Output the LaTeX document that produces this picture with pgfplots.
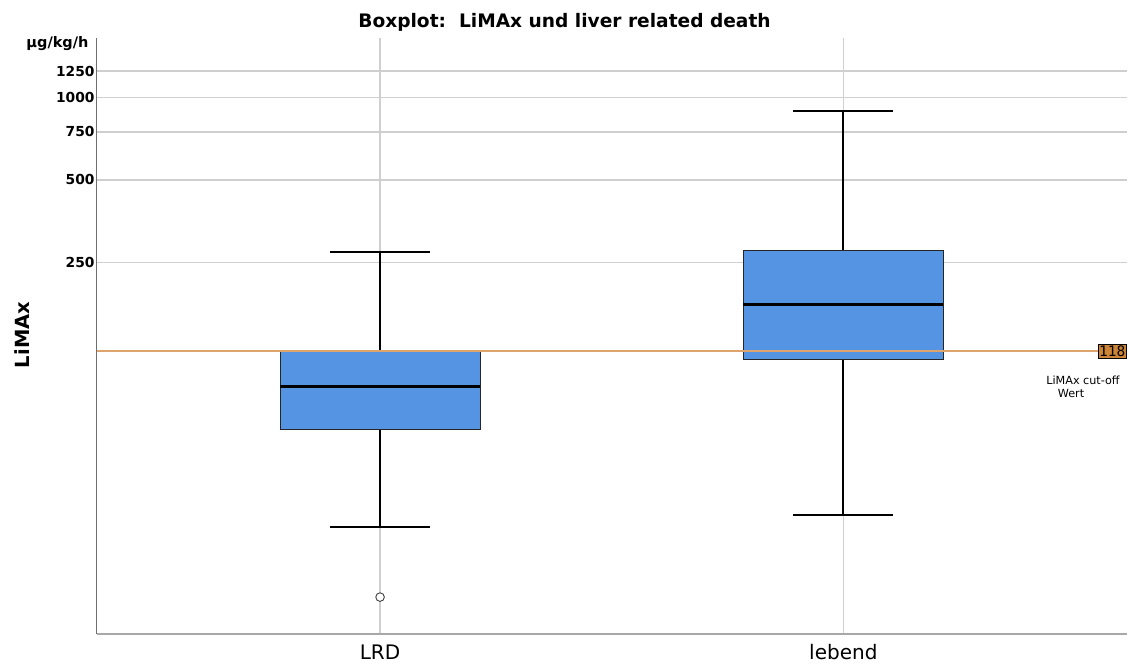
\documentclass[border=0pt]{standalone}
\usepackage{pgfplots}
\pgfplotsset{compat=1.18}
\usepackage{fontspec}
\setmainfont{DejaVu Sans}
\newfontfamily\monofont{DejaVu Sans Mono}
\definecolor{boxblue}{HTML}{5494E2}
\definecolor{cutline}{HTML}{DDA46E}
\definecolor{cutfill}{HTML}{CC8436}
\definecolor{gridgray}{HTML}{CFCFCF}
\definecolor{axisdark}{HTML}{6E6E6E}
\definecolor{axislight}{HTML}{A8A8A8}
\begin{document}
\begin{tikzpicture}
\useasboundingbox (0pt,0pt) rectangle (1129pt,668pt);
\begin{axis}[
  at={(96.7pt,34pt)}, anchor=south west,
  scale only axis, width=1030pt, height=596pt,
  ymode=log, ymin=10.92, ymax=1653,
  xmin=-0.6117, xmax=1.6117,
  axis x line*=bottom, axis y line*=left,
  x axis line style={-, draw=axislight, line width=1.3pt},
  y axis line style={-, draw=axisdark, line width=1.3pt},
  xtick={0,1}, xticklabels={LRD,lebend},
  ytick={250,500,750,1000,1250}, yticklabels={250,500,750,1000,1250},
  major tick length=0pt, minor tick length=0pt,
  ymajorgrids, xmajorgrids,
  grid style={gridgray, line width=1.5pt},
  yticklabel style={font=\fontsize{13.8}{16}\selectfont\bfseries, inner sep=2pt},
  xticklabel style={font=\fontsize{20}{24}\selectfont, yshift=-7pt},
  clip=false,
]
% LRD: whiskers 26.8 / 272, Q1 61.4, median 87.7, Q3 117.8
\addplot[black, line width=1.8pt] coordinates {(0,117.8) (0,272)};
\addplot[black, line width=1.8pt] coordinates {(0,26.8) (0,61.4)};
\addplot[black, line width=1.8pt] coordinates {(-0.108,272) (0.108,272)};
\addplot[black, line width=1.8pt] coordinates {(-0.108,26.8) (0.108,26.8)};
\addplot[draw=black!85, fill=boxblue, line width=0.9pt] coordinates {(-0.216,61.4) (0.216,61.4) (0.216,117.8) (-0.216,117.8)} --cycle;
\addplot[black, line width=3pt] coordinates {(-0.216,87.7) (0.216,87.7)};
% lebend: whiskers 29.8 / 896, Q1 110.4, median 175.5, Q3 276.6
\addplot[black, line width=1.8pt] coordinates {(1,276.6) (1,896)};
\addplot[black, line width=1.8pt] coordinates {(1,29.8) (1,110.4)};
\addplot[black, line width=1.8pt] coordinates {(0.892,896) (1.108,896)};
\addplot[black, line width=1.8pt] coordinates {(0.892,29.8) (1.108,29.8)};
\addplot[draw=black!85, fill=boxblue, line width=0.9pt] coordinates {(0.784,110.4) (1.216,110.4) (1.216,276.6) (0.784,276.6)} --cycle;
\addplot[black, line width=3pt] coordinates {(0.784,175.5) (1.216,175.5)};
% outlier
\addplot[only marks, mark=*, mark size=4.3pt,
  mark options={fill=white, draw=black!75, line width=0.9pt}] coordinates {(0,14.9)};
% cut-off line
\addplot[cutline, line width=2pt] coordinates {(-0.6117,118) (1.6117,118)};
\node[fill=cutfill, draw=black, line width=0.8pt, inner xsep=1pt, inner ysep=1.5pt, anchor=east,
  font=\monofont\fontsize{14.5}{16}\selectfont] at (axis cs:1.6117,118) {118};
\end{axis}
\node[font=\fontsize{18.6}{21}\selectfont\bfseries] at (564.5pt,646pt) {Boxplot:\ \ LiMAx und liver related death};
\node[font=\fontsize{14.5}{16}\selectfont\bfseries, anchor=east] at (92pt,624pt) {µg/kg/h};
\node[font=\fontsize{19.5}{22}\selectfont\bfseries, rotate=90] at (22pt,333pt) {LiMAx};
\node[font=\fontsize{11.2}{13}\selectfont] at (1083pt,288pt) {LiMAx cut-off};
\node[font=\fontsize{11.2}{13}\selectfont] at (1071pt,274pt) {Wert};
\end{tikzpicture}
\end{document}
